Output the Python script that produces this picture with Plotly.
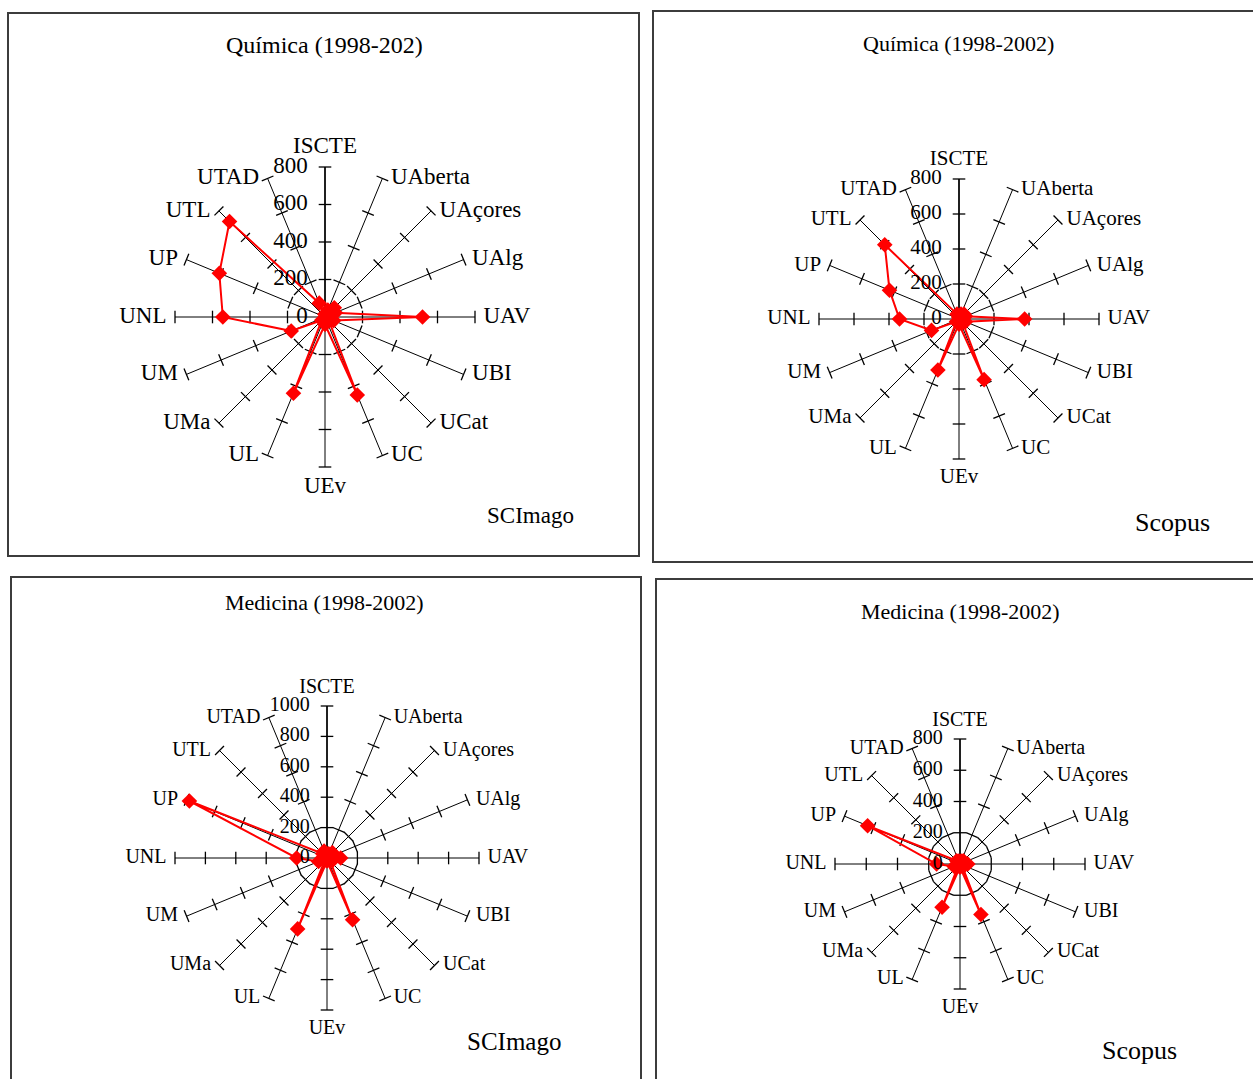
import plotly.graph_objects as go

# Universities shown on the spokes (clockwise from the top)
universities = ["ISCTE", "UAberta", "UAçores", "UAlg", "UAV", "UBI", "UCat", "UC",
                "UEv", "UL", "UMa", "UM", "UNL", "UP", "UTL", "UTAD"]

# Publications per university, 1998-2002
quimica_scimago = [15, 40, 70, 60, 520, 50, 30, 450, 40, 440, 25, 195, 545, 610, 720, 80]
quimica_scopus = [10, 30, 40, 40, 375, 40, 30, 375, 30, 315, 20, 170, 340, 430, 600, 30]
medicina_scimago = [20, 30, 50, 50, 90, 40, 30, 440, 20, 505, 20, 60, 200, 980, 40, 50]
medicina_scopus = [10, 20, 30, 30, 50, 30, 20, 350, 20, 300, 15, 40, 150, 640, 30, 20]

# Radial scale of each chart
ticks_800 = [0, 200, 400, 600, 800]
ticks_1000 = [0, 200, 400, 600, 800, 1000]

W, H = 1253, 1079
FONT = "Liberation Serif"

panels = [
    dict(name="polar", values=quimica_scimago, ticks=ticks_800, cx=325, cy=317, r=150,
         title="Química (1998-202)", tx=325, ty=45, tfs=24,
         src="SCImago", sx=530, sy=515, sfs=23, fs=23),
    dict(name="polar2", values=quimica_scopus, ticks=ticks_800, cx=959, cy=319, r=140,
         title="Química (1998-2002)", tx=958, ty=43, tfs=22,
         src="Scopus", sx=1172, sy=522, sfs=26, fs=21),
    dict(name="polar3", values=medicina_scimago, ticks=ticks_1000, cx=327, cy=858, r=152,
         title="Medicina (1998-2002)", tx=325, ty=603, tfs=22,
         src="SCImago", sx=514, sy=1041, sfs=25, fs=20),
    dict(name="polar4", values=medicina_scopus, ticks=ticks_800, cx=960, cy=864, r=125,
         title="Medicina (1998-2002)", tx=960, ty=611, tfs=22,
         src="Scopus", sx=1139, sy=1050, sfs=26, fs=20),
]

step = 360 / len(universities)
angles = [i * step for i in range(len(universities))]


def label_position(a):
    if a == 0:
        return "top center"
    if a == 180:
        return "bottom center"
    return "middle right" if a < 180 else "middle left"


fig = go.Figure()
layout = dict(width=W, height=H, margin=dict(l=0, r=0, t=0, b=0),
              paper_bgcolor="white", showlegend=False, annotations=[], shapes=[])

for p in panels:
    top = p["ticks"][-1]
    font = dict(family=FONT, size=p["fs"], color="black")

    # perpendicular tick marks on every spoke
    tr, tt, ta = [], [], []
    for a in angles:
        for v in p["ticks"][1:]:
            tr.append(v)
            tt.append(a)
            ta.append(a)
    fig.add_trace(go.Scatterpolar(
        r=tr, theta=tt, mode="markers", subplot=p["name"], hoverinfo="skip",
        marker=dict(symbol="line-ew", size=9, angle=ta,
                    line=dict(color="black", width=1.3)),
    ))

    # data series, closed loop
    vals = p["values"] + p["values"][:1]
    th = angles + angles[:1]
    fig.add_trace(go.Scatterpolar(
        r=vals, theta=th, mode="lines+markers", subplot=p["name"],
        line=dict(color="#ff0000", width=2),
        marker=dict(symbol="diamond", size=12, color="#ff0000"),
    ))

    # category names at the end of each spoke
    fig.add_trace(go.Scatterpolar(
        r=[top] * len(universities), theta=angles, mode="markers+text",
        text=universities, textposition=[label_position(a) for a in angles],
        textfont=font, subplot=p["name"], hoverinfo="skip", cliponaxis=False,
        marker=dict(size=12, color="rgba(0,0,0,0)"),
    ))

    # radial scale values beside the vertical spoke
    fig.add_trace(go.Scatterpolar(
        r=p["ticks"], theta=[0] * len(p["ticks"]), mode="markers+text",
        text=[str(v) for v in p["ticks"]], textposition="middle left",
        textfont=font, subplot=p["name"], hoverinfo="skip", cliponaxis=False,
        marker=dict(size=26, color="rgba(0,0,0,0)"),
    ))

    x0 = (p["cx"] - p["r"]) / W
    x1 = (p["cx"] + p["r"]) / W
    y0 = (H - p["cy"] - p["r"]) / H
    y1 = (H - p["cy"] + p["r"]) / H
    layout[p["name"]] = dict(
        domain=dict(x=[x0, x1], y=[y0, y1]),
        bgcolor="white",
        angularaxis=dict(
            direction="clockwise", rotation=90, tickmode="array",
            tickvals=angles, showticklabels=False, showline=False,
            showgrid=True, gridcolor="black", gridwidth=1.2, ticks="",
            layer="below traces",
        ),
        radialaxis=dict(
            range=[0, top], tickmode="array", tickvals=p["ticks"],
            showgrid=False, showline=True, linecolor="black", linewidth=1.5,
            ticks="", angle=90, showticklabels=False, layer="below traces",
        ),
    )
    layout["annotations"].append(dict(
        text=p["title"], x=p["tx"] / W, y=1 - p["ty"] / H, xref="paper", yref="paper",
        showarrow=False, xanchor="center", yanchor="middle",
        font=dict(family=FONT, size=p["tfs"], color="black")))
    layout["annotations"].append(dict(
        text=p["src"], x=p["sx"] / W, y=1 - p["sy"] / H, xref="paper", yref="paper",
        showarrow=False, xanchor="center", yanchor="middle",
        font=dict(family=FONT, size=p["sfs"], color="black")))

# panel frames
frames = [(8, 13, 639, 556), (653, 11, 1262, 562), (11, 577, 641, 1090), (656, 579, 1262, 1090)]
for fx0, fy0, fx1, fy1 in frames:
    layout["shapes"].append(dict(
        type="rect", xref="paper", yref="paper",
        x0=fx0 / W, x1=fx1 / W, y0=1 - fy1 / H, y1=1 - fy0 / H,
        line=dict(color="#3c3c3c", width=2)))

fig.update_layout(**layout)
fig.write_html("out.html")
